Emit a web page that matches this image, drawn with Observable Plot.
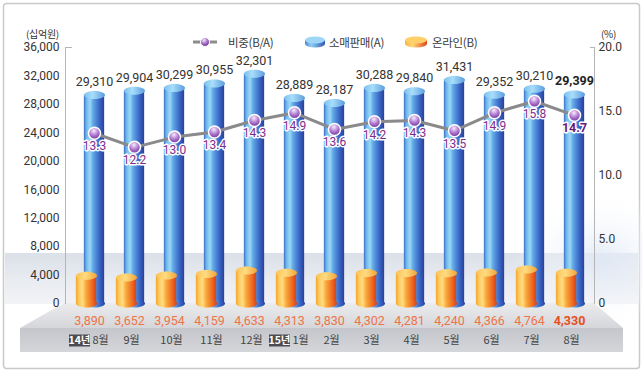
<!DOCTYPE html>
<html><head><meta charset="utf-8">
<script src="https://cdn.jsdelivr.net/npm/d3@7"></script>
<script src="https://cdn.jsdelivr.net/npm/@observablehq/plot@0.6"></script>
<style>
html,body{margin:0;padding:0;background:#fff;}
#wrap{position:relative;width:643px;height:373px;overflow:hidden;font-family:Roboto,"Noto Sans CJK KR",sans-serif;}
#bg,#plot{position:absolute;left:0;top:0;}
#plot svg{background:transparent;}
.lg{position:absolute;font-size:11.5px;color:#3a3a3a;font-family:"Noto Sans CJK KR",sans-serif;line-height:14px;letter-spacing:-0.3px;}
.unit{position:absolute;font-size:10px;color:#333;font-family:"Noto Sans CJK KR",sans-serif;line-height:12px;letter-spacing:-0.3px;}
</style></head>
<body>
<div id="wrap">
<svg id="bg" width="643" height="373">
  <defs>
    <linearGradient id="wallG" x1="0" y1="0" x2="0" y2="1">
      <stop offset="0" stop-color="#dbe0e9"/><stop offset="0.5" stop-color="#e8ebf0"/><stop offset="1" stop-color="#f2f3f6"/>
    </linearGradient>
    <linearGradient id="floorG" x1="0" y1="0" x2="0" y2="1">
      <stop offset="0" stop-color="#ececee"/><stop offset="1" stop-color="#d5d6da"/>
    </linearGradient>
    <linearGradient id="bandG" x1="0" y1="0" x2="0" y2="1">
      <stop offset="0" stop-color="#c4c6cb"/><stop offset="1" stop-color="#d4d6da"/>
    </linearGradient>
    <radialGradient id="glowG" cx="0.5" cy="0.5" r="0.5">
      <stop offset="0" stop-color="#dfe8f6" stop-opacity="0.9"/><stop offset="1" stop-color="#ffffff" stop-opacity="0"/>
    </radialGradient>
  </defs>
  <rect x="3.5" y="3.5" width="636" height="365" rx="3" fill="#fff" stroke="#c9c9c9" stroke-width="1.5"/>
  <rect x="5" y="253" width="633" height="51" fill="url(#wallG)"/>
  <ellipse cx="600" cy="260" rx="90" ry="70" fill="url(#glowG)"/>
  <polygon points="64,303 594,303 623,328 20,328" fill="url(#floorG)"/>
  <rect x="20" y="328" width="603" height="24" fill="url(#bandG)"/>
</svg>
<div id="plot"></div>
<div class="unit" style="left:26px;top:28px;">(십억원)</div>
<div class="unit" style="left:601px;top:28px;">(%)</div>
<svg style="position:absolute;left:190px;top:34px" width="30" height="16">
  <defs><radialGradient id="lgP" cx="0.4" cy="0.3" r="0.75"><stop offset="0" stop-color="#f6e8fa"/><stop offset="0.55" stop-color="#a167c4"/><stop offset="1" stop-color="#6a2e8e"/></radialGradient></defs>
  <line x1="3" y1="8" x2="27" y2="8" stroke="#8c8c8c" stroke-width="3"/>
  <circle cx="15" cy="8" r="4.5" fill="url(#lgP)" stroke="#fff" stroke-width="1"/>
</svg>
<div class="lg" style="left:228px;top:35px;">비중(B/A)</div>
<svg style="position:absolute;left:303px;top:34px" width="24" height="16">
  <defs><linearGradient id="lgB" x1="0" y1="0" x2="1" y2="0"><stop offset="0" stop-color="#4f86d4"/><stop offset="0.3" stop-color="#8fd0f4"/><stop offset="1" stop-color="#2f58b2"/></linearGradient></defs>
  <path d="M2,6 L2,10 A10,3.5 0 0 0 22,10 L22,6 Z" fill="url(#lgB)"/>
  <ellipse cx="12" cy="6" rx="10" ry="3.5" fill="#9fd6f6"/>
</svg>
<div class="lg" style="left:329px;top:35px;">소매판매(A)</div>
<svg style="position:absolute;left:403px;top:34px" width="26" height="16">
  <defs><linearGradient id="lgO" x1="0" y1="0" x2="1" y2="0"><stop offset="0" stop-color="#f6b640"/><stop offset="0.35" stop-color="#ffd679"/><stop offset="1" stop-color="#e2461a"/></linearGradient></defs>
  <path d="M2,6 L2,10 A11,3.5 0 0 0 24,10 L24,6 Z" fill="url(#lgO)"/>
  <ellipse cx="13" cy="6" rx="11" ry="3.5" fill="#ffcf6a"/>
</svg>
<div class="lg" style="left:432px;top:35px;">온라인(B)</div>
</div>
<script>
// ---- data ----
const periods = ["2014-08","2014-09","2014-10","2014-11","2014-12","2015-01","2015-02","2015-03","2015-04","2015-05","2015-06","2015-07","2015-08"];
const monthLabels = ["8월","9월","10월","11월","12월","1월","2월","3월","4월","5월","6월","7월","8월"];
const yearTags = ["14년","","","","","15년","","","","","","",""];
const retail = [29310,29904,30299,30955,32301,28889,28187,30288,29840,31431,29352,30210,29399];
const online = [3890,3652,3954,4159,4633,4313,3830,4302,4281,4240,4366,4764,4330];
const share = [13.3,12.2,13.0,13.4,14.3,14.9,13.6,14.2,14.3,13.5,14.9,15.8,14.7];
const leftTicks = [0,4000,8000,12000,16000,20000,24000,28000,32000,36000];
const rightTickValues = [0,5,10,15,20];
const rightTickLabels = ["0","5.0","10.0","15.0","20.0"];
// ---------------

const leftMax = 36000, rightMax = 20;
const k = leftMax / rightMax; // maps % axis onto the left scale
const data = periods.map((p,i)=>({period:p, month:monthLabels[i], tag:yearTags[i], retail:retail[i], online:online[i], share:share[i], last:i===periods.length-1}));
const fmt = d3.format(",");
const FONT = 'Roboto,"Noto Sans CJK KR",sans-serif';
const KR = '"Noto Sans CJK KR",sans-serif';

function ellipseSymbol(rx, ry){
  const c = 0.5523;
  return {draw(ctx){
    ctx.moveTo(rx,0);
    ctx.bezierCurveTo(rx, ry*c, rx*c, ry, 0, ry);
    ctx.bezierCurveTo(-rx*c, ry, -rx, ry*c, -rx, 0);
    ctx.bezierCurveTo(-rx, -ry*c, -rx*c, -ry, 0, -ry);
    ctx.bezierCurveTo(rx*c, -ry, rx, -ry*c, rx, 0);
    ctx.closePath();
  }};
}
function boxSymbol(w, h){
  return {draw(ctx){ ctx.rect(-w/2, -h/2, w, h); }};
}
const cap = ellipseSymbol(10.5, 4);
const tagBox = boxSymbol(21, 12);
const inset = 9.85;
const notLast = d => !d.last, isLast = d => d.last;
const tagged = data.filter(d => d.tag), untagged = data.filter(d => !d.tag);
const zero = () => 0;

const chart = Plot.plot({
  width: 643, height: 373,
  marginLeft: 65, marginRight: 49, marginTop: 47, marginBottom: 70,
  style: {fontFamily: FONT, background: "transparent", overflow: "visible"},
  x: {domain: periods, padding: 0, axis: null},
  y: {domain: [0, leftMax], axis: null},
  marks: [
    Plot.frame({anchor: "left", stroke: "#b5b5b5"}),
    Plot.frame({anchor: "right", stroke: "#b5b5b5"}),
    Plot.axisY({anchor: "left", ticks: leftTicks, tickFormat: fmt, tickSize: 0, tickPadding: 6, fontSize: 12, fill: "#333", label: null, ariaLabel: "num"}),
    Plot.axisY({anchor: "left", ticks: [leftMax], tickSize: -7, stroke: "#b5b5b5", text: null, label: null}),
    Plot.axisY({anchor: "right", ticks: rightTickValues.map(v => v*k), tickFormat: (d) => rightTickLabels[rightTickValues.indexOf(d/k)], tickSize: 0, tickPadding: 4, fontSize: 12, fill: "#333", label: null, ariaLabel: "num"}),
    Plot.axisY({anchor: "right", ticks: [leftMax], tickSize: -5, stroke: "#b5b5b5", text: null, label: null}),
    // retail cylinders (blue)
    Plot.barY(data, {x: "period", y: "retail", fill: "url(#blueBody)", insetLeft: inset, insetRight: inset, dx: 4}),
    Plot.dot(data, {x: "period", y: zero, symbol: cap, r: 5, fill: "url(#blueBody)", dx: 4}),
    Plot.dot(data, {x: "period", y: "retail", symbol: cap, r: 5, fill: "url(#blueCap)", dx: 4}),
    // online cylinders (orange)
    Plot.barY(data, {x: "period", y: "online", fill: "url(#orangeBody)", insetLeft: inset, insetRight: inset, dx: -4}),
    Plot.dot(data, {x: "period", y: zero, symbol: cap, r: 5, fill: "url(#orangeBody)", dx: -4}),
    Plot.dot(data, {x: "period", y: "online", symbol: cap, r: 5, fill: "url(#orangeCap)", dx: -4}),
    // share line
    Plot.line(data, {x: "period", y: d => d.share*k, stroke: "#8a8a8a", strokeWidth: 3, dx: 4}),
    Plot.dot(data, {x: "period", y: d => d.share*k, r: 6, fill: "url(#purpleBall)", stroke: "#fff", strokeWidth: 1.5, dx: 4}),
    Plot.text(data.filter(notLast), {x: "period", y: d => d.share*k, text: d => d.share.toFixed(1), dx: 4, dy: 13, fill: "#7d2d8c", stroke: "#fff", strokeWidth: 3, fontSize: 12, ariaLabel: "num"}),
    Plot.text(data.filter(isLast), {x: "period", y: d => d.share*k, text: d => d.share.toFixed(1), dx: 4, dy: 13, fill: "#6a1a78", stroke: "#fff", strokeWidth: 3, fontSize: 12.5, fontWeight: "bold", ariaLabel: "num"}),
    // value labels
    Plot.text(data.filter(notLast), {x: "period", y: "retail", text: d => fmt(d.retail), dx: 4, dy: -13, fill: "#333", fontSize: 12.5, ariaLabel: "num"}),
    Plot.text(data.filter(isLast), {x: "period", y: "retail", text: d => fmt(d.retail), dx: 4, dy: -13, fill: "#222", fontSize: 12.5, fontWeight: "bold", ariaLabel: "num"}),
    Plot.text(data.filter(notLast), {x: "period", y: zero, text: d => fmt(d.online), dx: -1, dy: 17, fill: "#ee7447", fontSize: 12.5, ariaLabel: "num"}),
    Plot.text(data.filter(isLast), {x: "period", y: zero, text: d => fmt(d.online), dx: -1, dy: 17, fill: "#e5501e", fontSize: 12.5, fontWeight: "bold", ariaLabel: "num"}),
    // month labels
    Plot.text(untagged, {x: "period", y: zero, text: "month", dx: 1, dy: 37, fill: "#444", fontSize: 11, fontFamily: KR}),
    Plot.text(tagged, {x: "period", y: zero, text: "month", dx: 10, dy: 37, fill: "#444", fontSize: 11, fontFamily: KR}),
    Plot.dot(tagged, {x: "period", y: zero, symbol: tagBox, r: 5, fill: "#4b4d53", dx: -11, dy: 37}),
    Plot.text(tagged, {x: "period", y: zero, text: "tag", dx: -11, dy: 37, fill: "#fff", fontSize: 10.5, fontWeight: "bold", fontFamily: KR, ariaLabel: "num"})
  ]
});
document.getElementById("plot").appendChild(chart);

const svg = d3.select(chart);
const defs = svg.insert("defs", ":first-child");
function lin(id, stops){
  const g = defs.append("linearGradient").attr("id", id).attr("x1",0).attr("y1",0).attr("x2",1).attr("y2",0);
  stops.forEach(([o,c]) => g.append("stop").attr("offset", o).attr("stop-color", c));
}
lin("blueBody", [[0,"#3c6fc6"],[0.12,"#6fb4ea"],[0.3,"#9ad9f7"],[0.45,"#62a8e6"],[0.75,"#3b69c9"],[1,"#2a3f98"]]);
lin("blueCap", [[0,"#7cc0ee"],[0.4,"#a8defa"],[1,"#5c9ce0"]]);
lin("orangeBody", [[0,"#f4a42e"],[0.15,"#fcc95d"],[0.32,"#ffdc84"],[0.5,"#f9a83a"],[0.8,"#ee6a22"],[1,"#d93f17"]]);
lin("orangeCap", [[0,"#fbc25a"],[0.45,"#ffdb80"],[1,"#f3a43a"]]);
const rg = defs.append("radialGradient").attr("id","purpleBall").attr("cx",0.45).attr("cy",0.3).attr("r",0.75);
[[0,"#f8ecfb"],[0.5,"#b07ad0"],[1,"#6a2b8e"]].forEach(([o,c]) => rg.append("stop").attr("offset",o).attr("stop-color",c));

// condense numeric labels (reference uses a narrow typeface), keeping each label's anchor point
svg.selectAll('g[aria-label="num"] text').each(function(){
  const len = this.getComputedTextLength();
  if (!(len > 0)) return;
  const anchor = getComputedStyle(this).textAnchor;
  const b0 = this.getBBox();
  const ref0 = anchor === "middle" ? b0.x + b0.width/2 : anchor === "end" ? b0.x + b0.width : b0.x;
  this.setAttribute("textLength", (len*0.84).toFixed(1));
  this.setAttribute("lengthAdjust", "spacingAndGlyphs");
  const b1 = this.getBBox();
  const ref1 = anchor === "middle" ? b1.x + b1.width/2 : anchor === "end" ? b1.x + b1.width : b1.x;
  const shift = ref0 - ref1;
  if (Math.abs(shift) > 0.05) {
    const t = this.getAttribute("transform") || "";
    this.setAttribute("transform", (t + ` translate(${shift.toFixed(2)},0)`).trim());
  }
});
</script>
</body></html>
